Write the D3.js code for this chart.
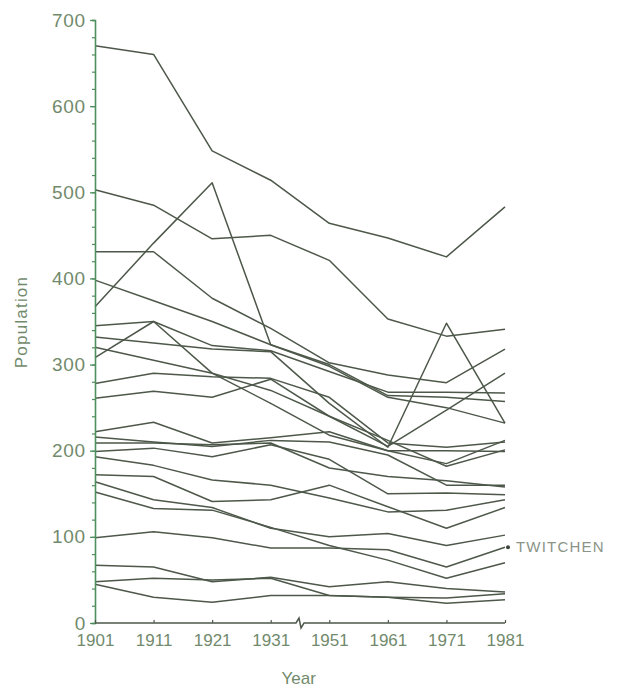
<!DOCTYPE html>
<html>
<head>
<meta charset="utf-8">
<script src="https://cdn.jsdelivr.net/npm/d3@7"></script>
<style>
  html, body { margin: 0; padding: 0; background: #ffffff; }
  svg { display: block; }
  text { font-family: "Liberation Sans", Arial, sans-serif; }
</style>
</head>
<body>
<svg id="chart" width="634" height="689"></svg>
<script>
// Census years (no census in 1941)
const years = ["1901", "1911", "1921", "1931", "1951", "1961", "1971", "1981"];

// Parish populations, one array per parish, in census order
const parishA = [670, 660, 548, 514, 464, 447, 425, 483];
const parishB = [503, 485, 446, 450, 421, 353, 333, 341];
const parishC = [367, 441, 511, 323, 298, 262, 250, 232];
const parishD = [431, 431, 377, 342, 302, 288, 279, 318];
const parishE = [398, 374, 350, 323, 300, 264, 262, 257];
const parishF = [345, 350, 322, 316, 292, 268, 268, 267];
const parishG = [332, 325, 318, 315, 255, 204, 348, 232];
const parishH = [320, 305, 290, 270, 240, 205, 247, 290];
const parishI = [308, 350, 290, 255, 218, 200, 185, 212];
const parishJ = [278, 290, 286, 284, 262, 209, 204, 210];
const parishK = [261, 269, 262, 283, 240, 212, 182, 201];
const parishL = [222, 233, 209, 215, 222, 200, 200, 199];
const parishM = [216, 210, 205, 212, 210, 195, 160, 160];
const parishN = [209, 209, 207, 209, 180, 170, 165, 158];
const parishO = [199, 203, 193, 207, 190, 150, 151, 149];
const parishP = [193, 183, 166, 160, 145, 129, 131, 143];
const parishQ = [172, 170, 141, 143, 160, 135, 110, 134];
const parishR = [164, 143, 134, 110, 100, 104, 90, 102];
const parishS = [152, 133, 131, 111, 90, 73, 52, 70];
const twitchen = [99, 106, 99, 87, 87, 85, 65, 88];
const parishU = [67, 65, 48, 53, 42, 48, 40, 36];
const parishV = [48, 52, 50, 52, 32, 30, 29, 34];
const parishW = [45, 30, 24, 32, 32, 30, 23, 27];

const allParishes = [parishA, parishB, parishC, parishD, parishE, parishF, parishG,
  parishH, parishI, parishJ, parishK, parishL, parishM, parishN, parishO, parishP,
  parishQ, parishR, parishS, twitchen, parishU, parishV, parishW];

// Axis ticks
const majorTicks = [0, 100, 200, 300, 400, 500, 600, 700];
const minorTicks = d3.range(0, 701, 20);
const labelledName = "TWITCHEN";

const svg = d3.select("#chart");
const lineColor = "#4d584a";
const axisColor = "#4f8f5d";
const textColor = "#728a6c";

const x = d3.scalePoint().domain(years).range([95, 505]);
const y = d3.scaleLinear().domain([0, 700]).range([623, 20]);

// Population lines
const line = d3.line()
  .x((d, i) => x(years[i]))
  .y(d => y(d));

svg.append("g")
  .selectAll("path")
  .data(allParishes)
  .join("path")
  .attr("d", line)
  .attr("fill", "none")
  .attr("stroke", lineColor)
  .attr("stroke-width", 1.5)
  .attr("stroke-linejoin", "round");

// Y axis: minor ticks every 20, labels every 100
const yAxis = svg.append("g").attr("transform", "translate(95,0)");
yAxis.call(d3.axisLeft(y).tickValues(minorTicks).tickSize(3).tickFormat(""))
  .call(g => g.select(".domain").attr("stroke", axisColor).attr("stroke-width", 1.6))
  .call(g => g.selectAll(".tick line").attr("stroke", axisColor).attr("stroke-width", 1.2));
yAxis.append("g")
  .call(d3.axisLeft(y).tickValues(majorTicks).tickSize(5).tickPadding(4).tickFormat(d3.format("d")))
  .call(g => g.select(".domain").remove())
  .call(g => g.selectAll(".tick line").attr("stroke", axisColor).attr("stroke-width", 1.3))
  .call(g => g.selectAll(".tick text")
    .attr("fill", textColor)
    .attr("font-size", 19)
    .attr("letter-spacing", 0.8)
    .attr("font-family", "Liberation Sans, Arial, sans-serif"));

// X axis with ticks pointing up and a break between 1931 and 1951
const xAxis = svg.append("g").attr("transform", "translate(0,623)");
xAxis.call(d3.axisBottom(x).tickSize(-3).tickPadding(9))
  .call(g => g.select(".domain").remove())
  .call(g => g.selectAll(".tick line").attr("stroke", lineColor).attr("stroke-width", 1.2))
  .call(g => g.selectAll(".tick text")
    .attr("fill", textColor)
    .attr("font-size", 17)
    .attr("dy", "0.85em")
    .attr("font-family", "Liberation Sans, Arial, sans-serif"));

const breakX = (x("1931") + x("1951")) / 2;
const axisPath = d3.path();
axisPath.moveTo(95, 0);
axisPath.lineTo(breakX - 4, 0);
axisPath.lineTo(breakX - 1, -5);
axisPath.lineTo(breakX + 1, 5);
axisPath.lineTo(breakX + 4, 0);
axisPath.lineTo(505, 0);
xAxis.append("path")
  .attr("d", axisPath.toString())
  .attr("fill", "none")
  .attr("stroke", lineColor)
  .attr("stroke-width", 1.5);

// Axis titles
svg.append("text")
  .attr("x", x("1931") + 28)
  .attr("y", 684)
  .attr("text-anchor", "middle")
  .attr("fill", textColor)
  .attr("font-size", 17)
  .text("Year");

svg.append("text")
  .attr("transform", "translate(27,322) rotate(-90)")
  .attr("text-anchor", "middle")
  .attr("fill", textColor)
  .attr("font-size", 17)
  .attr("letter-spacing", 1.2)
  .text("Population");

// Label the highlighted parish at its 1981 value
const lastYear = years[years.length - 1];
const lastVal = twitchen[twitchen.length - 1];
svg.append("circle")
  .attr("cx", x(lastYear) + 3)
  .attr("cy", y(lastVal))
  .attr("r", 2)
  .attr("fill", "#3b4439");
svg.append("text")
  .attr("x", x(lastYear) + 11)
  .attr("y", y(lastVal))
  .attr("dy", "0.35em")
  .attr("fill", "#8a9487")
  .attr("font-size", 15)
  .attr("letter-spacing", 1.2)
  .text(labelledName);
</script>
</body>
</html>
